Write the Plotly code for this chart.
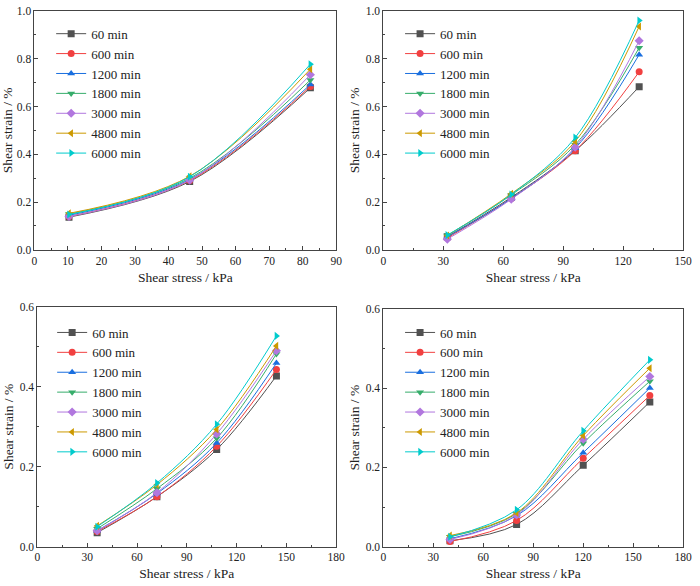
import plotly.graph_objects as go

durations = ["60 min", "600 min", "1200 min", "1800 min", "3000 min", "4800 min", "6000 min"]
colors = ["#515151", "#F14040", "#1A6FDF", "#37AD6B", "#B177DE", "#CC9900", "#00CBCC"]
symbols = ["square", "circle", "triangle-up", "triangle-down", "diamond", "triangle-left", "triangle-right"]

# Panel (a)
stress_a = [10.3, 46.3, 82.3]
strain_a = [
    [0.137, 0.286, 0.678],
    [0.140, 0.290, 0.684],
    [0.145, 0.295, 0.692],
    [0.150, 0.300, 0.711],
    [0.140, 0.292, 0.733],
    [0.153, 0.308, 0.756],
    [0.148, 0.306, 0.777],
]

# Panel (b)
stress_b = [32, 64, 96, 128]
strain_b = [
    [0.055, 0.220, 0.415, 0.683],
    [0.050, 0.215, 0.415, 0.745],
    [0.055, 0.215, 0.425, 0.817],
    [0.060, 0.230, 0.440, 0.846],
    [0.045, 0.212, 0.430, 0.875],
    [0.060, 0.235, 0.454, 0.935],
    [0.062, 0.232, 0.470, 0.960],
]

# Panel (c)
stress_c = [36, 72, 108, 144]
strain_c = [
    [0.035, 0.125, 0.243, 0.427],
    [0.038, 0.125, 0.251, 0.443],
    [0.040, 0.133, 0.259, 0.459],
    [0.045, 0.145, 0.271, 0.482],
    [0.040, 0.135, 0.282, 0.490],
    [0.052, 0.155, 0.293, 0.502],
    [0.050, 0.159, 0.306, 0.527],
]

# Panel (d)
stress_d = [40, 80, 120, 160]
strain_d = [
    [0.015, 0.056, 0.205, 0.365],
    [0.013, 0.066, 0.223, 0.381],
    [0.020, 0.078, 0.237, 0.400],
    [0.025, 0.083, 0.261, 0.417],
    [0.018, 0.080, 0.271, 0.429],
    [0.028, 0.085, 0.280, 0.450],
    [0.025, 0.093, 0.292, 0.471],
]

FONT = "Liberation Serif"
W, H = 700, 586

panels = [
    dict(x=stress_a, ys=strain_a, xr=[0, 90], xd=10, xm=5, yr=[0, 1.0], yd=0.2, ym=0.1,
         px=(32, 339), py=(5, 249), leg=(49, 13)),
    dict(x=stress_b, ys=strain_b, xr=[0, 150], xd=30, xm=15, yr=[0, 1.0], yd=0.2, ym=0.1,
         px=(387, 692), py=(5, 249), leg=(404, 13)),
    dict(x=stress_c, ys=strain_c, xr=[0, 180], xd=30, xm=15, yr=[0, 0.6], yd=0.2, ym=0.1,
         px=(35, 339), py=(307, 552), leg=(50, 318)),
    dict(x=stress_d, ys=strain_d, xr=[0, 180], xd=30, xm=15, yr=[0, 0.6], yd=0.2, ym=0.1,
         px=(387, 692), py=(309, 552), leg=(404, 318)),
]

fig = go.Figure()
layout = dict(
    width=W, height=H, margin=dict(l=0, r=0, t=0, b=0),
    paper_bgcolor="white", plot_bgcolor="white",
    font=dict(family=FONT, color="#222"),
)

for i, p in enumerate(panels):
    n = "" if i == 0 else str(i + 1)
    legname = "legend" + n
    for k, name in enumerate(durations):
        fig.add_trace(go.Scatter(
            x=p["x"], y=p["ys"][k], name=name, mode="lines+markers",
            line=dict(color=colors[k], width=1, shape="spline", smoothing=1.0),
            marker=dict(symbol=symbols[k], size=7, color=colors[k], line=dict(width=0)),
            xaxis="x" + n, yaxis="y" + n, legend=legname,
        ))
    axcommon = dict(showline=True, linecolor="#444", linewidth=1, mirror=True,
                    ticks="inside", ticklen=4, tickcolor="#444", showgrid=False,
                    zeroline=False, tickfont=dict(size=11.5, family=FONT, color="#222"))
    layout["xaxis" + n] = dict(
        axcommon, domain=[p["px"][0] / W, p["px"][1] / W], anchor="y" + n,
        range=p["xr"], tickmode="linear", tick0=0, dtick=p["xd"],
        minor=dict(ticks="inside", ticklen=2, dtick=p["xm"], tick0=0, tickcolor="#444"),
        title=dict(text="Shear stress / kPa", font=dict(size=13.5, family=FONT, weight="normal"), standoff=6),
    )
    layout["yaxis" + n] = dict(
        axcommon, domain=[1 - p["py"][1] / H, 1 - p["py"][0] / H], anchor="x" + n,
        range=p["yr"], tickmode="linear", tick0=0, dtick=p["yd"], tickformat=".1f",
        minor=dict(ticks="inside", ticklen=2, dtick=p["ym"], tick0=0, tickcolor="#444"),
        title=dict(text="Shear strain / %", font=dict(size=13.5, family=FONT, weight="normal"), standoff=2),
    )
    layout[legname] = dict(
        x=p["leg"][0] / W, y=1 - p["leg"][1] / H, xanchor="left", yanchor="top",
        bgcolor="rgba(0,0,0,0)", borderwidth=0, font=dict(size=13, family=FONT),
        itemwidth=30,
    )

fig.update_layout(**layout)
fig.write_html("out.html")
